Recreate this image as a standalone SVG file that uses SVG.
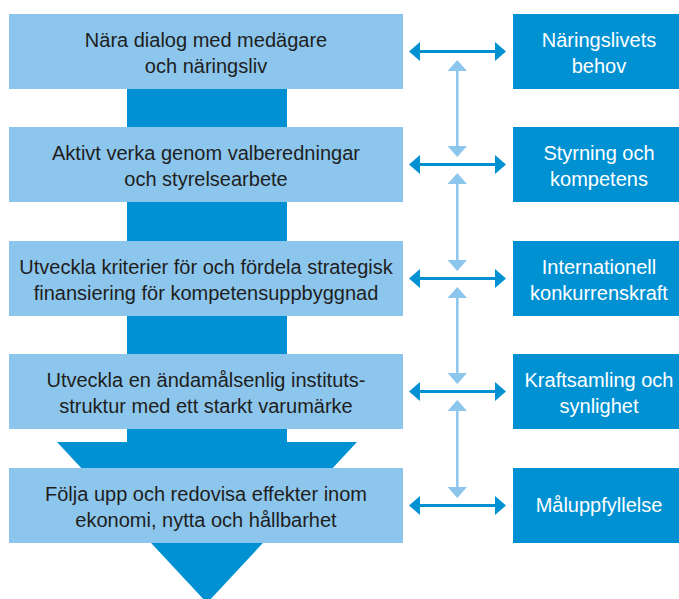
<svg xmlns="http://www.w3.org/2000/svg" width="679" height="599" viewBox="0 0 679 599">
<style>
.lb{fill:#8dc6ec}
.db{fill:#0091d3}
.lt{font-family:"Liberation Sans",Arial,sans-serif;font-size:20px;fill:#1e1e1e;text-anchor:middle}
.rt{font-family:"Liberation Sans",Arial,sans-serif;font-size:20px;fill:#ffffff;text-anchor:middle}
.h{stroke:#0091d3;stroke-width:3;fill:none}
.ha{fill:#0091d3}
.v{stroke:#8dc6ec;stroke-width:2.5;fill:none}
.va{fill:#8dc6ec}
</style>
<g id="flow-arrow">
<rect class="db" x="127" y="88" width="160" height="355"/>
<polygon class="db" points="57,442 357,442 207,603"/>
</g>
<g id="n1"><rect class="lb" x="9" y="14" width="394" height="75"/>
<text class="lt" x="206" y="47">Nära dialog med medägare</text>
<text class="lt" x="206" y="73">och näringsliv</text></g>
<g id="n2"><rect class="lb" x="9" y="127" width="394" height="75"/>
<text class="lt" x="206" y="160">Aktivt verka genom valberedningar</text>
<text class="lt" x="206" y="186">och styrelsearbete</text></g>
<g id="n3"><rect class="lb" x="9" y="241" width="394" height="75"/>
<text class="lt" x="206" y="274">Utveckla kriterier för och fördela strategisk</text>
<text class="lt" x="206" y="300">finansiering för kompetensuppbyggnad</text></g>
<g id="n4"><rect class="lb" x="9" y="354" width="394" height="75"/>
<text class="lt" x="206" y="387">Utveckla en ändamålsenlig instituts-</text>
<text class="lt" x="206" y="413">struktur med ett starkt varumärke</text></g>
<g id="n5"><rect class="lb" x="9" y="468" width="394" height="75"/>
<text class="lt" x="206" y="501">Följa upp och redovisa effekter inom</text>
<text class="lt" x="206" y="527">ekonomi, nytta och hållbarhet</text></g>
<g id="r1"><rect class="db" x="513" y="14" width="170" height="75"/>
<text class="rt" x="599" y="47">Näringslivets</text>
<text class="rt" x="599" y="73">behov</text></g>
<g id="r2"><rect class="db" x="513" y="127" width="170" height="75"/>
<text class="rt" x="599" y="160">Styrning och</text>
<text class="rt" x="599" y="186">kompetens</text></g>
<g id="r3"><rect class="db" x="513" y="241" width="170" height="75"/>
<text class="rt" x="599" y="274">Internationell</text>
<text class="rt" x="599" y="300">konkurrenskraft</text></g>
<g id="r4"><rect class="db" x="513" y="354" width="170" height="75"/>
<text class="rt" x="599" y="387">Kraftsamling och</text>
<text class="rt" x="599" y="413">synlighet</text></g>
<g id="r5"><rect class="db" x="513" y="468" width="170" height="75"/>
<text class="rt" x="599" y="512">Måluppfyllelse</text></g>
<g id="connectors">
<g id="h1"><line class="h" x1="418" y1="51.5" x2="497" y2="51.5"/><polygon class="ha" points="409,51.5 420,42 420,61"/><polygon class="ha" points="506,51.5 495,42 495,61"/></g>
<g id="h2"><line class="h" x1="418" y1="164.5" x2="497" y2="164.5"/><polygon class="ha" points="409,164.5 420,155 420,174"/><polygon class="ha" points="506,164.5 495,155 495,174"/></g>
<g id="h3"><line class="h" x1="418" y1="278.5" x2="497" y2="278.5"/><polygon class="ha" points="409,278.5 420,269 420,288"/><polygon class="ha" points="506,278.5 495,269 495,288"/></g>
<g id="h4"><line class="h" x1="418" y1="391.5" x2="497" y2="391.5"/><polygon class="ha" points="409,391.5 420,382 420,401"/><polygon class="ha" points="506,391.5 495,382 495,401"/></g>
<g id="h5"><line class="h" x1="418" y1="505.5" x2="497" y2="505.5"/><polygon class="ha" points="409,505.5 420,496 420,515"/><polygon class="ha" points="506,505.5 495,496 495,515"/></g>
<g id="v1"><line class="v" x1="457.3" y1="69" x2="457.3" y2="148"/><polygon class="va" points="457.3,60 447.5,71 467,71"/><polygon class="va" points="457.3,157 447.5,146 467,146"/></g>
<g id="v2"><line class="v" x1="457.3" y1="182" x2="457.3" y2="262"/><polygon class="va" points="457.3,173 447.5,184 467,184"/><polygon class="va" points="457.3,271 447.5,260 467,260"/></g>
<g id="v3"><line class="v" x1="457.3" y1="296" x2="457.3" y2="375"/><polygon class="va" points="457.3,287 447.5,298 467,298"/><polygon class="va" points="457.3,384 447.5,373 467,373"/></g>
<g id="v4"><line class="v" x1="457.3" y1="409" x2="457.3" y2="489"/><polygon class="va" points="457.3,400 447.5,411 467,411"/><polygon class="va" points="457.3,498 447.5,487 467,487"/></g>
</g>
</svg>
